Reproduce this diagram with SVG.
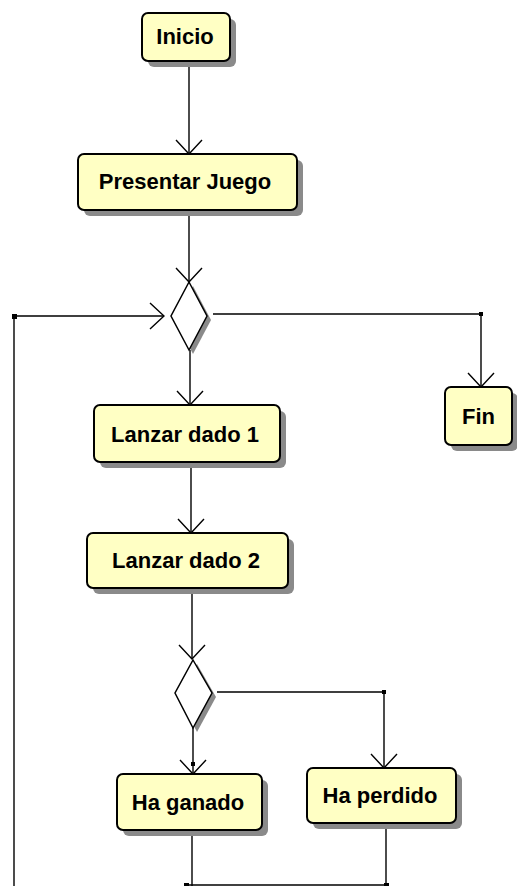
<svg xmlns="http://www.w3.org/2000/svg" width="517" height="886" viewBox="0 0 517 886">
  <defs>
    <style>
      .shadow { fill: #8a8a8a; }
      .box { fill: #ffffc4; stroke: #000; stroke-width: 2; }
      .dia { fill: #fff; stroke: #000; stroke-width: 1.5; }
      .label { font-family: "Liberation Sans", Arial, sans-serif; font-weight: bold; font-size: 22px; fill: #000; text-anchor: middle; }
      .line { fill: none; stroke: #000; stroke-width: 1.4; }
      .dot { fill: #000; }
    </style>
    <marker id="open" viewBox="-16 -16 17 32" refX="0" refY="0" markerWidth="17" markerHeight="32" markerUnits="userSpaceOnUse" orient="auto">
      <path d="M-14,-13 L0,0 L-14,13" fill="none" stroke="#000" stroke-width="1.4"/>
    </marker>
  </defs>
  <rect width="517" height="886" fill="#fff"/>

  <g id="connectors">
    <line class="line" x1="189" y1="61" x2="189" y2="154" marker-end="url(#open)"/>
    <line class="line" x1="189" y1="210" x2="189" y2="282" marker-end="url(#open)"/>
    <line class="line" x1="190" y1="350" x2="190" y2="405" marker-end="url(#open)"/>
    <line class="line" x1="191" y1="462" x2="191" y2="533" marker-end="url(#open)"/>
    <line class="line" x1="192" y1="588" x2="192" y2="659" marker-end="url(#open)"/>
    <line class="line" x1="193" y1="728" x2="193" y2="774" marker-end="url(#open)"/>
    <rect class="dot" x="191" y="762" width="4" height="4"/>
    <!-- decision 1: exit to Fin -->
    <polyline class="line" points="213,314 481,314 481,387" marker-end="url(#open)"/>
    <rect class="dot" x="479" y="312" width="4" height="4"/>
    <!-- decision 2: exit to Ha perdido -->
    <polyline class="line" points="217,692 384,692 384,768" marker-end="url(#open)"/>
    <rect class="dot" x="382" y="690" width="4" height="4"/>
    <!-- loop back -->
    <line class="line" x1="192" y1="830" x2="192" y2="886"/>
    <line class="line" x1="386" y1="823" x2="386" y2="886"/>
    <line class="line" x1="186" y1="885" x2="386" y2="885"/>
    <rect class="dot" x="184" y="883" width="5" height="5"/>
    <rect class="dot" x="384" y="883" width="5" height="5"/>
    <polyline class="line" points="14,886 14,316 164,316" marker-end="url(#open)"/>
    <rect class="dot" x="12" y="314" width="5" height="5"/>
  </g>

  <g id="inicio">
    <rect class="shadow" x="148" y="19" width="88" height="48" rx="6"/>
    <rect class="box" x="142" y="13" width="88" height="48" rx="6"/>
    <text class="label" x="185" y="44">Inicio</text>
  </g>

  <g id="presentar-juego">
    <rect class="shadow" x="84" y="160" width="219" height="56" rx="6"/>
    <rect class="box" x="78" y="154" width="219" height="56" rx="6"/>
    <text class="label" x="185" y="189">Presentar Juego</text>
  </g>

  <g id="decision-1">
    <polygon class="shadow" points="193,286 211,320 193,354 175,320"/>
    <polygon class="dia" points="189,282 207,316 189,350 171,316"/>
  </g>

  <g id="fin">
    <rect class="shadow" x="451" y="393" width="67" height="58" rx="6"/>
    <rect class="box" x="445" y="387" width="67" height="58" rx="6"/>
    <text class="label" x="478.5" y="424">Fin</text>
  </g>

  <g id="lanzar-dado-1">
    <rect class="shadow" x="100" y="411" width="186" height="57" rx="6"/>
    <rect class="box" x="94" y="405" width="186" height="57" rx="6"/>
    <text class="label" x="185" y="442">Lanzar dado 1</text>
  </g>

  <g id="lanzar-dado-2">
    <rect class="shadow" x="93" y="539" width="201" height="55" rx="6"/>
    <rect class="box" x="87" y="533" width="201" height="55" rx="6"/>
    <text class="label" x="186" y="568">Lanzar dado 2</text>
  </g>

  <g id="decision-2">
    <polygon class="shadow" points="197,664 216,697 197,732 179,697"/>
    <polygon class="dia" points="193,660 212,693 193,728 175,693"/>
  </g>

  <g id="ha-ganado">
    <rect class="shadow" x="123" y="780" width="145" height="56" rx="6"/>
    <rect class="box" x="117" y="774" width="145" height="56" rx="6"/>
    <text class="label" x="188" y="810">Ha ganado</text>
  </g>

  <g id="ha-perdido">
    <rect class="shadow" x="313" y="774" width="149" height="55" rx="6"/>
    <rect class="box" x="307" y="768" width="149" height="55" rx="6"/>
    <text class="label" x="380" y="803">Ha perdido</text>
  </g>
</svg>
